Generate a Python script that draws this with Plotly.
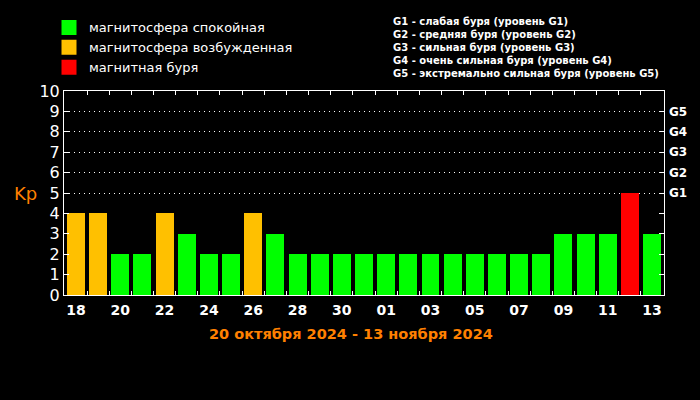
import plotly.graph_objects as go

days = ["18", "19", "20", "21", "22", "23", "24", "25", "26", "27", "28", "29", "30", "31",
        "01", "02", "03", "04", "05", "06", "07", "08", "09", "10", "11", "12", "13"]
kp = [4, 4, 2, 2, 4, 3, 2, 2, 4, 3, 2, 2, 2, 2, 2, 2, 2, 2, 2, 2, 2, 2, 3, 3, 3, 5, 3]
status_names = ["магнитосфера спокойная", "магнитосфера возбужденная", "магнитная буря"]
status_colors = ["#00FF00", "#FFC000", "#FF0000"]
g_levels = [5, 6, 7, 8, 9]
g_labels = ["G1", "G2", "G3", "G4", "G5"]
g_desc = ["G1 - слабая буря (уровень G1)",
          "G2 - средняя буря (уровень G2)",
          "G3 - сильная буря (уровень G3)",
          "G4 - очень сильная буря (уровень G4)",
          "G5 - экстремально сильная буря (уровень G5)"]
title_text = "20 октября 2024 - 13 ноября 2024"


def status(v):
    if v >= 5:
        return 2
    if v >= 4:
        return 1
    return 0


xs = list(range(len(days)))
colors = [status_colors[status(v)] for v in kp]

fig = go.Figure()
fig.add_trace(go.Bar(x=xs, y=kp, marker=dict(color=colors, line=dict(width=0)),
                     width=0.81, showlegend=False, hoverinfo="skip"))
for name, c in zip(status_names, status_colors):
    fig.add_trace(go.Scatter(x=[None], y=[None], mode="markers", name=name,
                             marker=dict(symbol="square", size=15, color=c),
                             yaxis="y2"))

fig.update_layout(
    width=700, height=400,
    paper_bgcolor="black", plot_bgcolor="black",
    margin=dict(l=64, r=36, t=91, b=105),
    font=dict(family="DejaVu Sans", color="white"),
    xaxis=dict(range=[-0.54, len(days) - 0.46], tickmode="array",
               tickvals=xs[::2], ticktext=days[::2], ticks="",
               tickfont=dict(family="DejaVu Sans", size=14, color="white", weight="bold"),
               ticklabelstandoff=2,
               showgrid=False, zeroline=False, showline=True, linecolor="white",
               linewidth=1, mirror="ticks",
               minor=dict(tickmode="array", tickvals=[i + 0.5 for i in xs[:-1]],
                          ticks="inside", ticklen=4, tickcolor="white", showgrid=False)),
    yaxis=dict(range=[0, 10], tickmode="array", tickvals=list(range(11)),
               ticks="inside", ticklen=5, tickcolor="white",
               tickfont=dict(family="DejaVu Sans", size=16, color="white"),
               showgrid=False, zeroline=False, showline=True, linecolor="white",
               linewidth=1, mirror="ticks"),
    yaxis2=dict(range=[0, 10], overlaying="y", side="right", anchor="x",
                tickmode="array", tickvals=g_levels, ticktext=g_labels, ticks="",
                tickfont=dict(family="DejaVu Sans", size=12, color="white", weight="bold"),
                ticklabelstandoff=4,
                showgrid=True, gridcolor="white", griddash="1px,4px", gridwidth=1,
                zeroline=False, showline=False),
    legend=dict(x=-0.025, y=1.385, xanchor="left", yanchor="top",
                bgcolor="rgba(0,0,0,0)", font=dict(family="DejaVu Sans", size=13, color="white"),
                itemclick=False),
    showlegend=True,
    bargap=0,
)

fig.add_annotation(text="<br>".join(g_desc), xref="paper", yref="paper",
                   x=0.545, y=1.376, xanchor="left", yanchor="top", align="left",
                   showarrow=False,
                   font=dict(family="DejaVu Sans", size=10, color="white", weight="bold"))
fig.add_annotation(text="Kp", xref="paper", yref="paper", x=-0.041, y=0.5,
                   xanchor="right", yanchor="middle", showarrow=False,
                   font=dict(family="DejaVu Sans", size=18, color="#FF8000"))
fig.add_annotation(text=title_text, xref="paper", yref="paper", x=0.478, y=-0.19,
                   xanchor="center", yanchor="middle", showarrow=False,
                   font=dict(family="DejaVu Sans", size=14.5, color="#FF8000", weight="bold"))

fig.write_html("out.html")
